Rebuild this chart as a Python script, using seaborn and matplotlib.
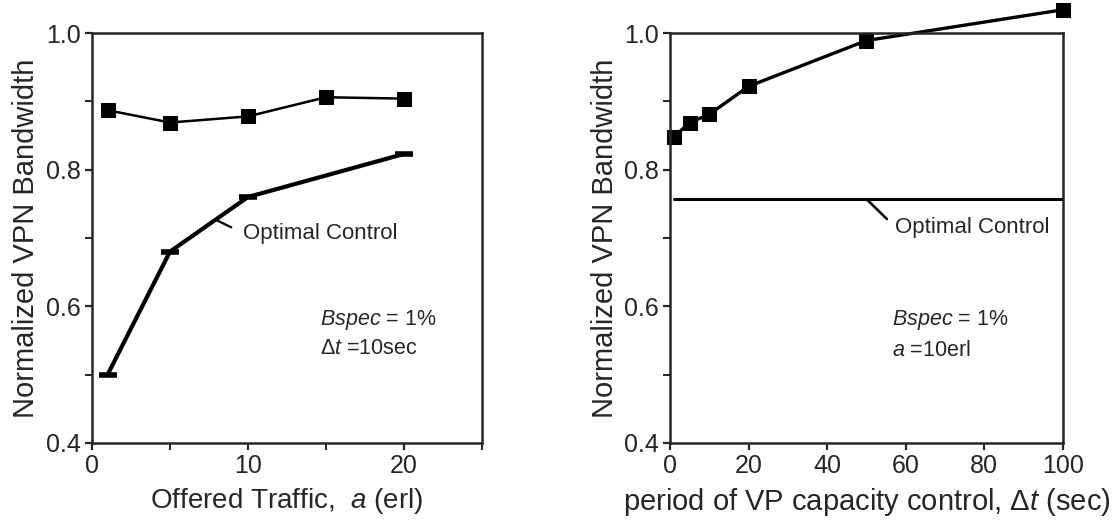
import numpy as np
import pandas as pd
import matplotlib
matplotlib.use("Agg")
import matplotlib.pyplot as plt
import seaborn as sns
from matplotlib.ticker import MultipleLocator

# left panel: bandwidth vs offered traffic
traffic = [1, 5, 10, 15, 20]
bw_traffic = [0.887, 0.869, 0.878, 0.906, 0.904]
opt_traffic_x = [1, 5, 10, 20]
opt_traffic = [0.50, 0.68, 0.76, 0.823]

# right panel: bandwidth vs control period
period = [1, 5, 10, 20, 50, 100]
bw_period = [0.848, 0.869, 0.881, 0.922, 0.989, 1.034]
opt_period_x = [1, 100]
opt_period = [0.757, 0.757]

sns.set_style("ticks")
plt.rcParams['font.family'] = ['Liberation Sans', 'DejaVu Sans']
plt.rcParams['mathtext.fontset'] = 'custom'
plt.rcParams['mathtext.rm'] = 'Liberation Sans'
plt.rcParams['mathtext.it'] = 'Liberation Sans:italic'
plt.rcParams['axes.linewidth'] = 1.8
plt.rcParams['xtick.major.width'] = 1.6
plt.rcParams['ytick.major.width'] = 1.6
plt.rcParams['xtick.minor.width'] = 1.4
plt.rcParams['ytick.minor.width'] = 1.4
plt.rcParams['xtick.major.size'] = 5
plt.rcParams['ytick.major.size'] = 5
plt.rcParams['xtick.minor.size'] = 5
plt.rcParams['ytick.minor.size'] = 5

fig = plt.figure(figsize=(11.16, 5.29), dpi=100)
ax1 = fig.add_axes([0.0824, 0.1626, 0.3495, 0.775])
ax2 = fig.add_axes([0.6004, 0.1626, 0.3520, 0.775])

left = pd.DataFrame({"a": traffic, "bw": bw_traffic})
left_opt = pd.DataFrame({"a": opt_traffic_x, "bw": opt_traffic})
sns.lineplot(data=left, x="a", y="bw", ax=ax1, color="black", lw=1.8,
             marker="s", markersize=10, markeredgecolor="black", clip_on=False)
sns.lineplot(data=left_opt, x="a", y="bw", ax=ax1, color="black", lw=3,
             marker="_", markersize=13, markeredgewidth=4, markeredgecolor="black")

right = pd.DataFrame({"dt": period, "bw": bw_period})
right_opt = pd.DataFrame({"dt": opt_period_x, "bw": opt_period})
sns.lineplot(data=right, x="dt", y="bw", ax=ax2, color="black", lw=2.4,
             marker="s", markersize=10, markeredgecolor="black", clip_on=False)
sns.lineplot(data=right_opt, x="dt", y="bw", ax=ax2, color="black", lw=2.2)

for ax in (ax1, ax2):
    ax.set_ylim(0.4, 1.0)
    ax.yaxis.set_major_locator(MultipleLocator(0.2))
    ax.yaxis.set_minor_locator(MultipleLocator(0.1))
    ax.set_yticklabels([f"{v:.1f}" for v in ax.get_yticks()])
    ax.set_ylabel("Normalized VPN Bandwidth", fontsize=21, labelpad=4)
    ax.tick_params(labelsize=18, pad=3)
    for s in ax.spines.values():
        s.set_visible(True)

ax1.set_xlim(0, 25)
ax1.xaxis.set_major_locator(MultipleLocator(10))
ax1.xaxis.set_minor_locator(MultipleLocator(5))
ax1.set_xlabel(r"Offered Traffic,  $a$ (erl)", fontsize=20, labelpad=6)

ax2.set_xlim(0, 100)
ax2.xaxis.set_major_locator(MultipleLocator(20))
ax2.set_xlabel(r"period of VP capacity control, $\mathit{\Delta t}$ (sec)", fontsize=21, labelpad=6)

ax1.annotate("Optimal Control", xy=(8.0, 0.726), xytext=(9.7, 0.707),
             fontsize=16, va="center", ha="left",
             arrowprops=dict(arrowstyle="-", lw=1.6, color="black",
                             relpos=(0, 0.5), shrinkA=7, shrinkB=0))
ax1.text(14.6, 0.58, r"$Bspec$ = 1%", fontsize=15.5, va="center")
ax1.text(14.6, 0.539, r"$\mathit{\Delta t}$ =10sec", fontsize=15.5, va="center")

ax2.annotate("Optimal Control", xy=(50, 0.757), xytext=(57.3, 0.716),
             fontsize=16, va="center", ha="left",
             arrowprops=dict(arrowstyle="-", lw=1.8, color="black",
                             relpos=(0, 0.5), shrinkA=5, shrinkB=0))
ax2.text(56.4, 0.58, r"$Bspec$ = 1%", fontsize=15.5, va="center")
ax2.text(56.4, 0.536, r"$a$ =10erl", fontsize=15.5, va="center")

fig.savefig("out.png", dpi=100)
